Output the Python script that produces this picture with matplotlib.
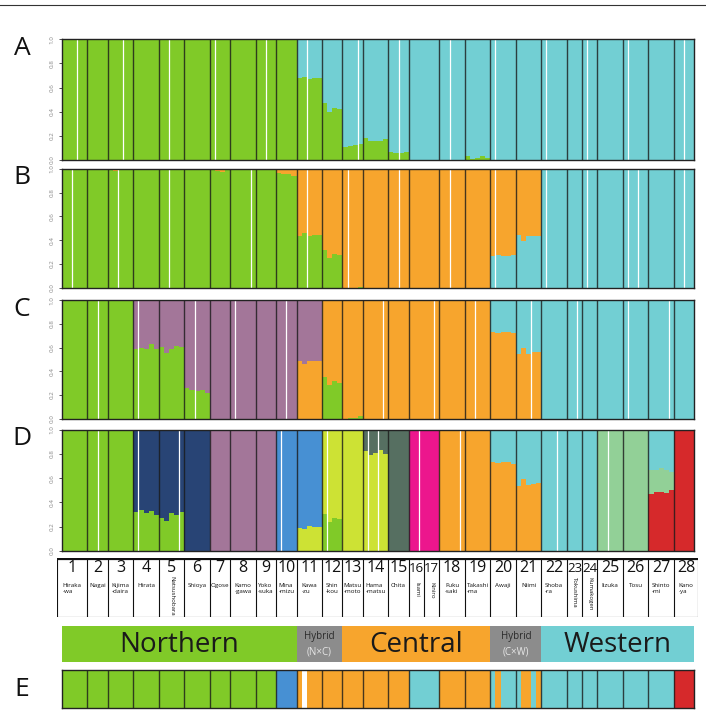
import numpy as np
import matplotlib
matplotlib.use("Agg")
import matplotlib.pyplot as plt

plt.rcParams['font.family'] = ['Open Sans', 'DejaVu Sans']

# individuals per population (1..28)
pop_sizes = [5, 4, 5, 5, 5, 5, 4, 5, 4, 4, 5, 4, 4, 5, 4, 3, 3, 5, 5, 5, 5, 5, 3, 3, 5, 5, 5, 4]
pop_names = ["Hiraka\n-wa", "Nagai", "Kijima\n-daira", "Hirata", "Natsushobara", "Shioya", "Ogose",
             "Kamo\n-gawa", "Yoko\n-suka", "Mina\n-mizu", "Kawa\n-zu", "Shin\n-kou", "Matsu\n-moto",
             "Hama\n-matsu", "Chita", "Isami", "Kiniro", "Fuku\n-saki", "Takashi\n-ma", "Awaji", "Niimi",
             "Shoba\n-ra", "Tokushima", "Kumakogen", "Iizuka", "Tosu", "Shinto\n-mi", "Kano\n-ya"]
rotated_pops = {5: 18, 16: 24, 17: 24, 23: 19, 24: 19}  # pop -> text top offset (px) in table

colors = {'G': '#80CA28', 'C': '#72CFD3', 'O': '#F7A52D', 'P': '#A37699', 'N': '#284475',
          'B': '#4790D3', 'Y': '#CDE234', 'D': '#566F61', 'M': '#EC168D', 'L': '#92D097',
          'R': '#D6292B', 'W': '#FFFFFF'}

# Panel A (K=2)
A_order = ['G', 'C']
A_major = ['G'] * 10 + ['C'] * 18
A_mix = {11: {'G': [0.68, 0.69, 0.67, 0.68, 0.68]},
         12: {'G': [0.47, 0.40, 0.43, 0.42]},
         13: {'G': [0.11, 0.12, 0.125, 0.135]},
         14: {'G': [0.185, 0.16, 0.16, 0.16, 0.175]},
         15: {'G': [0.07, 0.06, 0.06, 0.07]},
         19: {'G': [0.03, 0.01, 0.02, 0.03, 0.02]}}
A_gaps = [3, 12, 21, 30, 40, 48, 58, 66, 76, 85, 95, 103, 111, 122]

# Panel B (K=3)
B_order = ['G', 'C', 'O']
B_major = ['G'] * 10 + ['O'] * 11 + ['C'] * 7
B_mix = {3: {'O': [0, 0.02, 0, 0, 0]},
         7: {'O': [0, 0.015, 0.025, 0]},
         10: {'O': [0.03, 0.04, 0.045, 0.055]},
         11: {'G': [0.435, 0.46, 0.435, 0.445, 0.445]},
         12: {'G': [0.32, 0.25, 0.285, 0.275]},
         13: {'G': [0, 0, 0, 0.01]},
         20: {'C': [0.27, 0.275, 0.27, 0.265, 0.275]},
         21: {'C': [0.44, 0.39, 0.435, 0.435, 0.435]}}
B_gaps = [2, 11, 21, 37, 48, 56, 66, 76, 85, 95, 103, 111, 113, 122]

# Panel C (K=4)
C_order = ['G', 'O', 'P', 'C']
C_major = ['G'] * 3 + ['P'] * 8 + ['O'] * 10 + ['C'] * 7
C_mix = {4: {'G': [0.585, 0.595, 0.585, 0.63, 0.585]},
         5: {'G': [0.605, 0.555, 0.585, 0.615, 0.605]},
         6: {'G': [0.26, 0.245, 0.23, 0.24, 0.215]},
         11: {'O': [0.485, 0.46, 0.485, 0.485, 0.485]},
         12: {'G': [0.35, 0.285, 0.315, 0.30]},
         13: {'G': [0, 0.01, 0.01, 0.02]},
         20: {'C': [0.27, 0.28, 0.27, 0.27, 0.28]},
         21: {'C': [0.45, 0.40, 0.45, 0.435, 0.435]}}
C_gaps = [7, 15, 26, 34, 44, 63, 73, 81, 92, 101, 111, 119]

# Panel D (K=11)
D_order = ['R', 'G', 'Y', 'O', 'N', 'B', 'D', 'P', 'M', 'L', 'C']
D_major = ['G', 'G', 'G', 'N', 'N', 'N', 'P', 'P', 'P', 'B', 'B', 'Y', 'Y', 'D',
           'D', 'M', 'M', 'O', 'O', 'C', 'C', 'C', 'C', 'C', 'L', 'L', 'C', 'R']
D_mix = {4: {'G': [0.32, 0.34, 0.315, 0.33, 0.30]},
         5: {'G': [0.27, 0.245, 0.315, 0.295, 0.32]},
         11: {'Y': [0.19, 0.18, 0.205, 0.20, 0.20]},
         12: {'G': [0.305, 0.24, 0.27, 0.265]},
         14: {'Y': [0.825, 0.79, 0.81, 0.83, 0.80]},
         20: {'O': [0.735, 0.725, 0.735, 0.735, 0.715]},
         21: {'O': [0.535, 0.59, 0.54, 0.55, 0.56]},
         27: {'R': [0.47, 0.485, 0.485, 0.48, 0.50], 'L': [0.20, 0.18, 0.20, 0.19, 0.155]}}
D_gaps = [7, 15, 23, 43, 52, 60, 62, 70, 78, 97, 107]

# Panel E: hard assignment per individual
E_major = ['G'] * 9 + ['B'] + ['O'] * 5 + ['C'] * 2 + ['O'] * 2 + ['C'] * 8 + ['R']
E_ind = {11: ['O', 'W', 'O', 'O', 'O'],
         20: ['C', 'O', 'C', 'C', 'C'],
         21: ['C', 'O', 'O', 'C', 'O']}

# region bar
region_names = ["Northern", "Hybrid", "Central", "Hybrid", "Western"]
region_sub = ["", "(N×C)", "", "(C×W)", ""]
region_first = [1, 11, 13, 20, 22]
region_last = [10, 12, 19, 21, 28]
region_colors = ['#80CA28', '#8C8C8C', '#F7A52D', '#8C8C8C', '#72CFD3']

n_ind = sum(pop_sizes)
edges = np.concatenate([[0], np.cumsum(pop_sizes)])
# boundary between 16 and 17 is not drawn in the bar plots
bounds = [e for k, e in enumerate(edges[1:-1], start=1) if k != 16]

W, H = 706, 728
fig = plt.figure(figsize=(W / 100, H / 100), dpi=100)


def px_axes(x0, x1, y0, y1):
    return fig.add_axes([x0 / W, 1 - y1 / H, (x1 - x0) / W, (y1 - y0) / H])


def build_q(major, mix, order):
    q = {k: np.zeros(n_ind) for k in order}
    for p, size in enumerate(pop_sizes, start=1):
        i = edges[p - 1]
        rest = np.ones(size)
        for k, vals in mix.get(p, {}).items():
            q[k][i:i + size] = vals
            rest = rest - np.array(vals)
        q[major[p - 1]][i:i + size] += rest
    return q


def struct_panel(ax, major, mix, order, gaps):
    q = build_q(major, mix, order)
    x = np.arange(n_ind)
    bottom = np.zeros(n_ind)
    for k in order:
        ax.bar(x, q[k], bottom=bottom, width=1.0, align='edge', color=colors[k], linewidth=0)
        bottom += q[k]
    ax.vlines(gaps, 0, 1, color='white', lw=0.9)
    ax.vlines(bounds, 0, 1, color='#1a1a1a', lw=1.0, alpha=0.8)
    ax.set_xlim(0, n_ind)
    ax.set_ylim(0, 1)
    ax.set_xticks([])
    ax.set_yticks([0, 0.2, 0.4, 0.6, 0.8, 1.0])
    ax.set_yticklabels(['0.0', '0.2', '0.4', '0.6', '0.8', '1.0'], rotation=90,
                       fontsize=4.5, color='#888888', va='center')
    ax.tick_params(axis='y', length=2.5, width=0.6, pad=3, color='#333333')
    for s in ax.spines.values():
        s.set_linewidth(1.0)
        s.set_color('#222222')


X0, X1 = 62, 694.3
panels = [('A', 39.3, 160, A_major, A_mix, A_order, A_gaps),
          ('B', 169, 287.7, B_major, B_mix, B_order, B_gaps),
          ('C', 300.3, 418.7, C_major, C_mix, C_order, C_gaps),
          ('D', 429.7, 551, D_major, D_mix, D_order, D_gaps)]
for lab, y0, y1, major, mix, order, gaps in panels:
    ax = px_axes(X0, X1, y0, y1)
    struct_panel(ax, major, mix, order, gaps)
    fig.text(22 / W, 1 - (y0 + 9) / H, lab, fontsize=19, ha='center', va='center', color='#111111')

# population label table
tx0, tx1 = 56.7, 698
u = (X1 - X0) / n_ind
tax = px_axes(tx0, tx1, 558, 617)
tax.set_xlim((tx0 - X0) / u, (tx1 - X0) / u)
tax.set_ylim(59, 0)
tax.axis('off')
col_edges = [(tx0 - X0) / u] + list(edges[1:-1]) + [(tx1 - X0) / u]
tax.vlines(col_edges, 0, 59, color='#111111', lw=0.8)
tax.hlines(0.5, col_edges[0], col_edges[-1], color='#111111', lw=1.6)
tax.hlines(58.6, col_edges[0], col_edges[-1], color='#111111', lw=0.8)
for p in range(1, 29):
    cx = (col_edges[p - 1] + col_edges[p]) / 2
    fs = 11.5 if pop_sizes[p - 1] > 3 else 9.5
    tax.text(cx, 10, str(p), fontsize=fs, ha='center', va='center', color='#111111')
    if p in rotated_pops:
        tax.text(cx, rotated_pops[p], pop_names[p - 1], fontsize=4.3, rotation=270,
                 ha='center', va='top', color='#111111')
    else:
        tax.text(cx, 25, pop_names[p - 1], fontsize=4.5, ha='center', va='top',
                 multialignment='left', linespacing=1.15, color='#111111')

# region bar
rax = px_axes(X0, X1, 626, 662)
for name, sub, a, b, c in zip(region_names, region_sub, region_first, region_last, region_colors):
    left, right = edges[a - 1], edges[b]
    rax.bar(left, 1, width=right - left, align='edge', color=c, linewidth=0)
    cx = (left + right) / 2
    if sub:
        rax.text(cx, 0.72, name, fontsize=7, ha='center', va='center', color='#2a2a2a')
        rax.text(cx, 0.27, sub, fontsize=7, ha='center', va='center', color='#e6e6e6')
    else:
        rax.text(cx, 0.47, name, fontsize=20, ha='center', va='center', color='#1a1a1a')
rax.set_xlim(0, n_ind)
rax.set_ylim(0, 1)
rax.axis('off')

# panel E
eax = px_axes(X0, X1, 670, 708)
e_cols = []
for p, size in enumerate(pop_sizes, start=1):
    e_cols += E_ind.get(p, [E_major[p - 1]] * size)
eax.bar(np.arange(n_ind), 1, width=1.0, align='edge', color=[colors[k] for k in e_cols], linewidth=0)
eax.vlines(bounds, 0, 1, color='#1a1a1a', lw=1.0, alpha=0.8)
eax.set_xlim(0, n_ind)
eax.set_ylim(0, 1)
eax.set_xticks([])
eax.set_yticks([])
for s in eax.spines.values():
    s.set_linewidth(1.0)
    s.set_color('#222222')
fig.text(22 / W, 1 - 690 / H, 'E', fontsize=19, ha='center', va='center', color='#111111')

# rule at the top
fig.add_artist(plt.Line2D([0, 1], [1 - 4.5 / H, 1 - 4.5 / H], color='#333333', lw=0.8))

fig.savefig("out.png", dpi=100)
